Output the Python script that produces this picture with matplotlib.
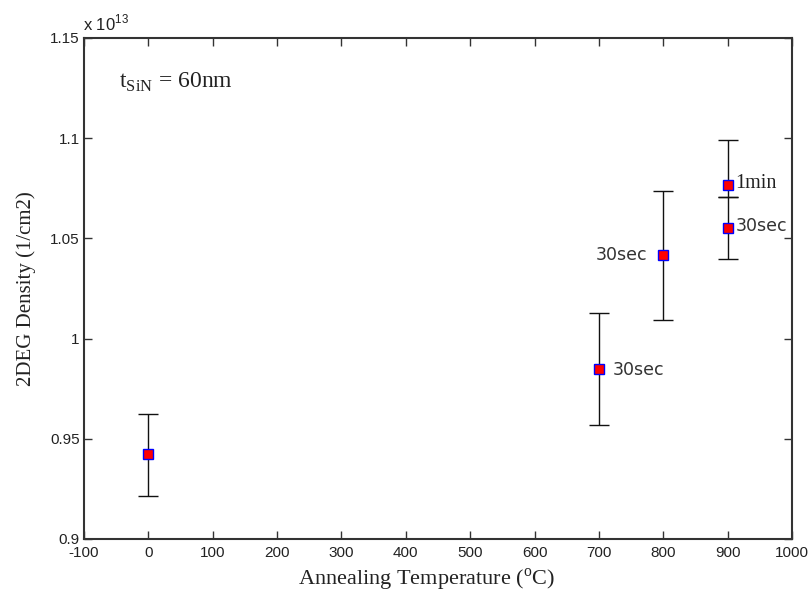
import matplotlib
matplotlib.use("Agg")
import matplotlib.pyplot as plt
import numpy as np

plt.rcParams['mathtext.fontset'] = 'custom'

# Data (values in units of 1e13 1/cm2)
temps = [0, 700, 800, 900, 900]
density = [0.9423, 0.9848, 1.0417, 1.0768, 1.0552]
err_low = [0.9216, 0.9569, 1.0093, 1.0705, 1.0397]
err_high = [0.9624, 1.0126, 1.0737, 1.0989, 1.0705]
labels = ["", "30sec", "30sec", "1min", "30sec"]

xticks = [-100, 0, 100, 200, 300, 400, 500, 600, 700, 800, 900, 1000]
yticks = [0.9, 0.95, 1.0, 1.05, 1.1, 1.15]
ytick_labels = ["0.9", "0.95", "1", "1.05", "1.1", "1.15"]

fig = plt.figure(figsize=(8.11, 5.98), dpi=100)
ax = fig.add_axes([0.1036, 0.0987, 0.873, 0.8378])

d = np.array(density)
yerr = np.vstack([d - np.array(err_low), np.array(err_high) - d])
ax.errorbar(temps, density, yerr=yerr, fmt='s', color='#111111', ecolor='#111111',
            elinewidth=1.0, capsize=7, capthick=1.0,
            markerfacecolor='red', markeredgecolor='blue', markersize=7.5,
            markeredgewidth=1.0, zorder=3)

ax.set_xlim(-100, 1000)
ax.set_ylim(0.9, 1.15)
ax.set_xticks(xticks)
ax.set_xticklabels([str(t) for t in xticks],
                   fontfamily=['Liberation Sans Narrow', 'Liberation Sans'], fontsize=11)
ax.set_yticks(yticks)
ax.set_yticklabels(ytick_labels, fontfamily='Liberation Sans', fontsize=11)
ax.tick_params(direction='in', length=6, width=1.0, top=True, right=True,
               colors='#333333', labelcolor='#222222')
ax.tick_params(axis='x', pad=5)
ax.tick_params(axis='y', pad=3)
for s in ax.spines.values():
    s.set_linewidth(1.5)
    s.set_color('#333333')

ax.set_xlabel("Annealing Temperature ($^{\\mathregular{o}}$C)", fontfamily='Liberation Serif',
              fontsize=16, color='#222222', labelpad=5)
ax.xaxis.label.set_x(0.483)
ax.set_ylabel("2DEG Density (1/cm2)", fontfamily='Liberation Serif', fontsize=15,
              color='#222222', labelpad=10)

# offset label
ax.text(-0.002, 1.010, "x 10$^{\\mathregular{13}}$", transform=ax.transAxes,
        fontfamily='Liberation Sans', fontsize=12, color='#222222', va='bottom', ha='left')

# annotation
ax.text(-45, 1.128, "t$_{\\mathregular{SiN}}$ = 60nm", fontfamily='Liberation Serif',
        fontsize=17, color='#222222', va='center', ha='left')

# point labels
ax.text(722, density[1] - 0.0005, labels[1], fontfamily='DejaVu Sans', fontsize=12.5,
        color='#333333', va='center', ha='left')
ax.text(775, density[2], labels[2], fontfamily='DejaVu Sans', fontsize=12.5,
        color='#333333', va='center', ha='right')
ax.text(912, density[3] + 0.0005, labels[3], fontfamily='Liberation Serif', fontsize=14.5,
        color='#222222', va='center', ha='left')
ax.text(912, density[4] + 0.001, labels[4], fontfamily='DejaVu Sans', fontsize=12.5,
        color='#333333', va='center', ha='left')

fig.savefig("out.png", dpi=100)
